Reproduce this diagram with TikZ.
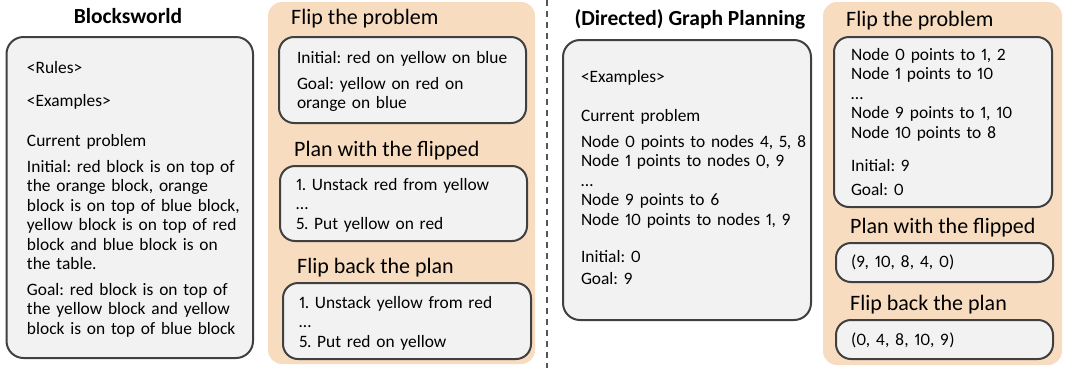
\documentclass[tikz,border=0pt]{standalone}
\usepackage{fontspec}
\setmainfont{Carlito}[Numbers=Proportional]
\frenchspacing
\definecolor{peach}{HTML}{F8DCC0}
\definecolor{cardgrey}{HTML}{F2F2F2}
\definecolor{edge}{HTML}{404040}
\definecolor{divider}{HTML}{555555}
\newcommand\bodyfont{\fontsize{17.4}{19.5}\selectfont\frenchspacing}
\newcommand\headfont{\fontsize{22}{26}\selectfont}
\newcommand\titlefont{\fontsize{21.5}{26}\selectfont\bfseries}
\tikzset{
  panel/.style={fill=peach, draw=none, rounded corners=14pt},
  card/.style={fill=cardgrey, draw=edge, line width=2pt, rounded corners=15pt},
  txt/.style={anchor=base west, inner sep=0pt, outer sep=0pt, text width=240pt, align=left, font=\bodyfont},
  head/.style={anchor=base west, inner sep=0pt, font=\headfont},
  title/.style={anchor=base, inner sep=0pt, font=\titlefont},
}
\begin{document}
\begin{tikzpicture}[x=1pt, y=-1pt]
\useasboundingbox[fill=white] (0,0) rectangle (1065,368);

% ---------- Blocksworld ----------
\node[title] (bwTitle) at (128,23) {Blocksworld};
\path[card, rounded corners=17pt] (6.5,37) rectangle (253,358);
\node[txt] (bwRules) at (27,73) {<Rules>};
\node[txt] (bwEx) at (27,106) {<Examples>};
\node[txt] (bwCur) at (27,146) {Current problem};
\node[txt] (bwInit) at (27,172) {Initial: red block is on top of\\the orange block, orange\\block is on top of blue block,\\yellow block is on top of red\\block and blue block is on\\the table.};
\node[txt] (bwGoal) at (27,295) {Goal: red block is on top of\\the yellow block and yellow\\block is on top of blue block};

% flipped blocksworld
\path[panel] (268,2) rectangle (535,364);
\node[head] (bwFlipH) at (291,24) {Flip the problem};
\path[card] (279,37) rectangle (526,123);
\node[txt] (bwFlipInit) at (297,63) {Initial: red on yellow on blue};
\node[txt] (bwFlipGoal) at (297,89) {Goal: yellow on red on\\orange on blue};
\node[head] (bwPlanH) at (294,156) {Plan with the flipped};
\path[card] (280,166) rectangle (527,241);
\node[txt] (bwPlan) at (296,190) {1. Unstack red from yellow\\…\\5. Put yellow on red};
\node[head] (bwBackH) at (297,273) {Flip back the plan};
\path[card] (283,283) rectangle (531,359);
\node[txt] (bwBack) at (299,308) {1. Unstack yellow from red\\…\\5. Put red on yellow};

% ---------- divider ----------
\draw[divider, line width=1.3pt, dash pattern=on 6pt off 5pt] (547,0) -- (547,368);

% ---------- Graph planning ----------
\node[title] (gpTitle) at (690,25) {(Directed) Graph Planning};
\path[card, rounded corners=17pt] (563,40) rectangle (811,320);
\node[txt] (gpEx) at (581,82) {<Examples>};
\node[txt] (gpCur) at (581,121) {Current problem};
\node[txt] (gpEdges) at (581,147) {Node 0 points to nodes 4, 5, 8\\Node 1 points to nodes 0, 9\\…\\Node 9 points to 6\\Node 10 points to nodes 1, 9};
\node[txt] (gpInit) at (581,262) {Initial: 0};
\node[txt] (gpGoal) at (581,284) {Goal: 9};

% flipped graph
\path[panel] (823,2) rectangle (1062,365);
\node[head] (gpFlipH) at (846,26) {Flip the problem};
\path[card] (834,37) rectangle (1052,207);
\node[txt] (gpFlipEdges) at (851,60) {Node 0 points to 1, 2\\Node 1 points to 10\\…\\Node 9 points to 1, 10\\Node 10 points to 8};
\node[txt] (gpFlipInit) at (851,171) {Initial: 9};
\node[txt] (gpFlipGoal) at (851,195) {Goal: 0};
\node[head] (gpPlanH) at (850,233) {Plan with the flipped};
\path[card] (836,243) rectangle (1053,282);
\node[txt] (gpPlan) at (851,267) {(9, 10, 8, 4, 0)};
\node[head] (gpBackH) at (850,310) {Flip back the plan};
\path[card] (836,320) rectangle (1053,359);
\node[txt] (gpBack) at (851,345) {(0, 4, 8, 10, 9)};
\end{tikzpicture}
\end{document}
